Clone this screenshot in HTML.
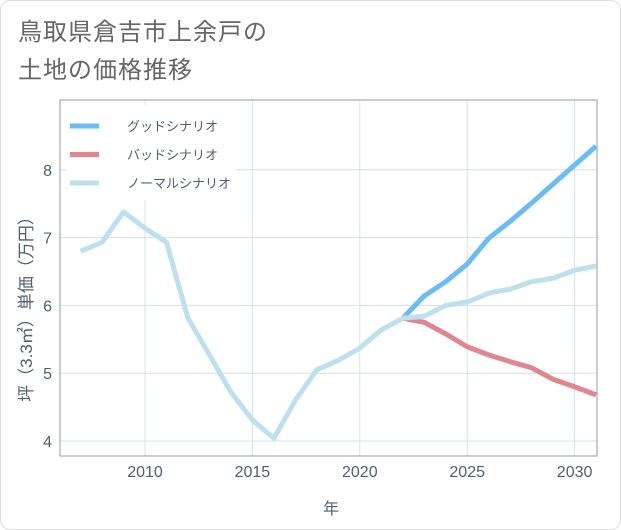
<!DOCTYPE html>
<html><head><meta charset="utf-8"><style>
body{margin:0;background:#fff;width:621px;height:530px;overflow:hidden;font-family:"Liberation Sans","Noto Sans CJK JP",sans-serif;}
.card{position:absolute;left:0;top:0;width:619px;height:528px;border:1px solid #ddd;border-radius:10px;background:#fff;}
.title{position:absolute;left:18px;top:14px;font-size:24px;line-height:38px;color:#666;letter-spacing:1px;}
</style></head><body>
<div class="card"></div>
<div class="title">鳥取県倉吉市上余戸の<br>土地の価格推移</div>
<svg id="chart" width="621" height="530" style="position:absolute;left:0;top:0"></svg>
<script>
const yearsNormal=[2007,2008,2009,2010,2011,2012,2013,2014,2015,2016,2017,2018,2019,2020,2021,2022,2023,2024,2025,2026,2027,2028,2029,2030,2031];
const valuesNormal=[6.80,6.93,7.38,7.14,6.93,5.81,5.27,4.72,4.31,4.04,4.60,5.05,5.19,5.37,5.64,5.81,5.84,6.00,6.05,6.18,6.24,6.35,6.40,6.52,6.58];
const yearsFuture=[2022,2023,2024,2025,2026,2027,2028,2029,2030,2031];
const valuesGood=[5.81,6.14,6.35,6.61,6.99,7.24,7.51,7.79,8.07,8.35];
const valuesBad=[5.81,5.75,5.58,5.39,5.27,5.17,5.08,4.91,4.80,4.68];
const xTicks=[2010,2015,2020,2025,2030];
const yTicks=[4,5,6,7,8];
const legendLabels=["グッドシナリオ","バッドシナリオ","ノーマルシナリオ"];
const legendColors=["#6bbcf3","#e0868f","#bde0ec"];

const NS="http://www.w3.org/2000/svg";
const svg=document.getElementById('chart');
const L=60,R=597,T=100,B=456;
const TXT='#4f5f70';
function xs(y){return 145+(y-2010)*21.48;}
function ys(v){return 441-(v-4)*67.8;}
function mk(tag,attrs,parent){const e=document.createElementNS(NS,tag);for(const k in attrs)e.setAttribute(k,attrs[k]);(parent||svg).appendChild(e);return e;}

const grid=mk('g',{});


xTicks.forEach(t=>{
  const l=mk('line',{x1:xs(t),x2:xs(t),y1:T,y2:B,stroke:'#d3e1ec','stroke-width':1},grid);
  
  
  const tx=mk('text',{x:xs(t),y:B+21,'text-anchor':'middle','font-size':16,fill:TXT});
  tx.textContent=t;
  
  
});
yTicks.forEach(t=>{
  const l=mk('line',{x1:L,x2:R,y1:ys(t),y2:ys(t),stroke:'#cfe3ee','stroke-width':1},grid);
  
  
  const tx=mk('text',{x:L-8,y:ys(t)+6,'text-anchor':'end','font-size':16,fill:TXT});
  tx.textContent=t;
  
  
});
const frame=mk('rect',{x:L,y:T,width:R-L,height:B-T,fill:'none',stroke:'#999','stroke-width':1});



function line(xsArr,vals,color,name){
  const p=mk('polyline',{points:xsArr.map((y,i)=>xs(y)+','+ys(vals[i])).join(' '),fill:'none',stroke:color,'stroke-width':5,'stroke-linejoin':'round'});
  
  
}
line(yearsFuture,valuesBad,legendColors[1],'bad-scenario-line');
line(yearsFuture,valuesGood,legendColors[0],'good-scenario-line');
line(yearsNormal,valuesNormal,legendColors[2],'normal-scenario-line');

const lg=mk('rect',{x:66,y:105,width:170,height:95,fill:'#fff'});


legendLabels.forEach((lab,i)=>{
  const y=126+i*28.5;
  const s=mk('line',{x1:70,x2:99,y1:y,y2:y,stroke:legendColors[i],'stroke-width':5});
  
  
  const t=mk('text',{x:127,y:y+5,'font-size':13,fill:TXT});
  t.textContent=lab;
  
  
});
const xt=mk('text',{x:331,y:514,'text-anchor':'middle','font-size':16,fill:TXT});
xt.textContent='年';


const yt=mk('text',{x:0,y:0,'text-anchor':'middle','font-size':17,fill:TXT,transform:'translate(32,305) rotate(-90)'});
yt.textContent='坪（3.3㎡）単価（万円）';


</script>
</body></html>
